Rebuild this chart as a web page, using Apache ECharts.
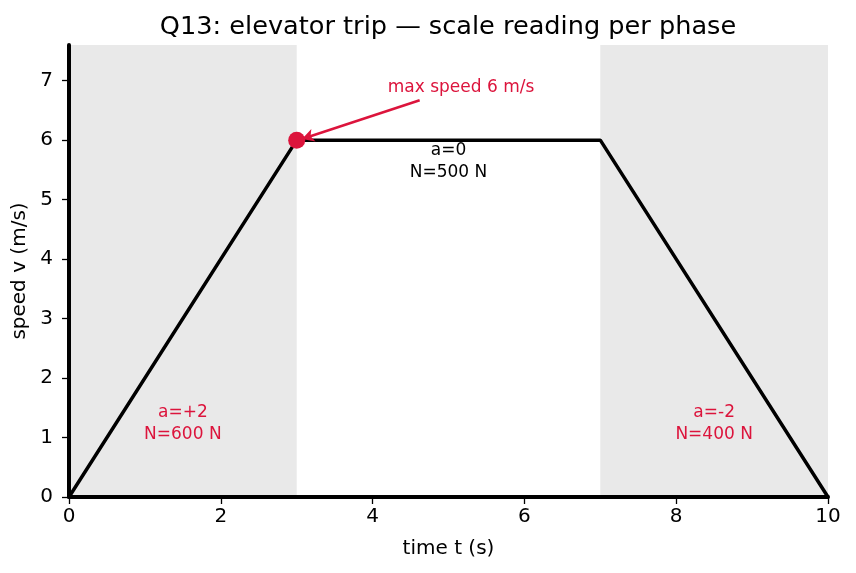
<!DOCTYPE html>
<html>
<head>
<meta charset="utf-8">
<script src="https://cdn.jsdelivr.net/npm/echarts@6/dist/echarts.min.js"></script>
<style>
  html, body { margin: 0; padding: 0; background: #fff; }
  #chart { width: 856px; height: 573px; }
</style>
</head>
<body>
<div id="chart"></div>
<script>
// trip profile
var times = [0, 3, 7, 10];
var speeds = [0, 6, 6, 0];
// shaded phases (accelerating / braking)
var phases = [[0, 3], [7, 10]];
// phase notes: [t, v, text, colour]
var notes = [
  [1.5, 1.24, 'a=+2\nN=600 N', '#dc143c'],
  [5.0, 5.64, 'a=0\nN=500 N', '#000'],
  [8.5, 1.24, 'a=-2\nN=400 N', '#dc143c']
];
var peak = [3, 6];
var arrowFrom = [4.62, 6.67];
var peakText = [4.2, 6.88, 'max speed 6 m/s'];
var xTicks = [0, 2, 4, 6, 8, 10];

var font = 'DejaVu Sans';
var myChart = echarts.init(document.getElementById('chart'));

var option = {
    animation: false,
    title: {
        text: 'Q13: elevator trip \u2014 scale reading per phase',
        left: 443,
        textAlign: 'center',
        top: 9,
        textStyle: { fontFamily: font, fontSize: 25.6, fontWeight: 'normal', color: '#000' }
    },
    grid: { left: 69, right: 28, top: 45, bottom: 76, outerBoundsMode: 'none', containLabel: false },
    xAxis: {
        type: 'value',
        min: 0, max: 10, interval: 2,
        z: 4,
        name: 'time t (s)',
        nameLocation: 'middle',
        nameGap: 42,
        nameTextStyle: { fontFamily: font, fontSize: 20, color: '#000' },
        axisLine: { lineStyle: { color: '#000', width: 4 } },
        axisTick: { show: true, length: 7, lineStyle: { color: '#000', width: 1.3 } },
        axisLabel: {
            fontFamily: font, fontSize: 20, color: '#000', margin: 10,
            formatter: function (v) { return xTicks.indexOf(v) >= 0 ? String(v) : ''; }
        },
        splitLine: { show: false }
    },
    yAxis: {
        type: 'value',
        min: 0, max: 7.6, interval: 1,
        z: 4,
        name: 'speed v (m/s)',
        nameLocation: 'middle',
        nameGap: 29,
        nameTextStyle: { fontFamily: font, fontSize: 20, color: '#000' },
        axisLine: { show: true, lineStyle: { color: '#000', width: 4 } },
        axisTick: { show: true, length: 7, lineStyle: { color: '#000', width: 1.3 } },
        axisLabel: {
            fontFamily: font, fontSize: 20, color: '#000', margin: 16,
            showMaxLabel: false
        },
        splitLine: { show: false }
    },
    series: [
        {
            type: 'line',
            data: times.map(function (t, i) { return [t, speeds[i]]; }),
            symbol: 'none',
            lineStyle: { color: '#000', width: 3.5 },
            z: 2,
            markArea: {
                silent: true,
                itemStyle: { color: '#e9e9e9' },
                data: phases.map(function (p) { return [{ xAxis: p[0] }, { xAxis: p[1] }]; })
            },
            markLine: {
                silent: true,
                symbol: ['none', 'arrow'],
                symbolSize: [10, 12],
                label: { show: false },
                lineStyle: { color: '#dc143c', width: 2.5, type: 'solid' },
                data: [[{ coord: arrowFrom }, { coord: [peak[0] + 0.07, peak[1] + 0.02] }]]
            }
        },
        {
            type: 'scatter',
            data: [peak],
            symbolSize: 17,
            itemStyle: { color: '#dc143c', opacity: 1 },
            z: 5
        },
        {
            type: 'scatter',
            symbolSize: 0,
            itemStyle: { opacity: 1 },
            data: notes.map(function (n) { return { value: [n[0], n[1]], name: n[2], c: n[3] }; }),
            label: {
                show: true,
                position: 'inside',
                fontFamily: font,
                fontSize: 17,
                lineHeight: 22,
                align: 'center',
                formatter: function (p) { return p.name; }
            },
            z: 6
        },
        {
            type: 'scatter',
            symbolSize: 0,
            itemStyle: { opacity: 1 },
            data: [{ value: [peakText[0], peakText[1]], name: peakText[2] }],
            label: {
                show: true,
                position: 'right',
                distance: 0,
                fontFamily: font,
                fontSize: 17,
                color: '#dc143c',
                formatter: function (p) { return p.name; }
            },
            z: 6
        }
    ]
};

// per-note colours
option.series[2].data.forEach(function (d) { d.label = { color: d.c }; });

myChart.setOption(option);
</script>
</body>
</html>
